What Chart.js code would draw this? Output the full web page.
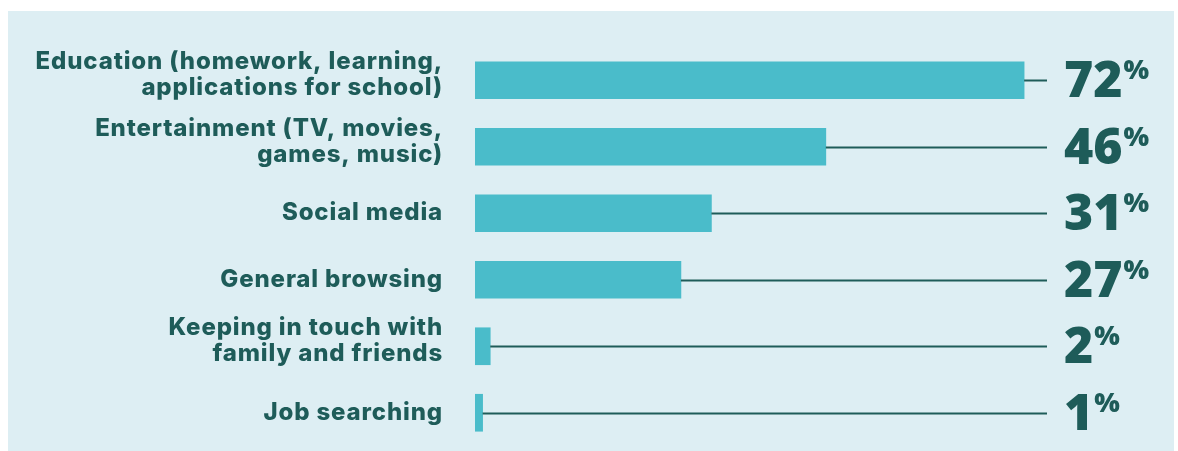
<!DOCTYPE html>
<html>
<head>
<meta charset="utf-8">
<script src="https://cdn.jsdelivr.net/npm/chart.js@4"></script>
<style>
    html, body { margin: 0; padding: 0; background: #ffffff; }
    #wrap { width: 1178px; height: 451px; }
</style>
</head>
<body>
<div id="wrap"><canvas id="chart" width="1178" height="451"></canvas></div>
<script>
const categories = [
    ["Education (homework, learning,", "applications for school)"],
    ["Entertainment (TV, movies,", "games, music)"],
    ["Social media"],
    ["General browsing"],
    ["Keeping in touch with", "family and friends"],
    ["Job searching"]
];
const values = [72, 46, 31, 27, 2, 1];

const DARK = "#1e5c59";
const BAR = "#4abcca";
const PANEL = "#ddeef3";

// light panel behind the chart
const panelPlugin = {
    id: "panel",
    beforeDraw(chart) {
        const ctx = chart.ctx;
        ctx.save();
        ctx.fillStyle = "#ffffff";
        ctx.fillRect(0, 0, chart.width, chart.height);
        ctx.fillStyle = PANEL;
        ctx.fillRect(8, 11, 1166, 440);
        ctx.restore();
    }
};

// category labels, right aligned left of the bars
const labelPlugin = {
    id: "catLabels",
    afterDraw(chart) {
        const ctx = chart.ctx;
        const yScale = chart.scales.y;
        const right = chart.chartArea.left - 32;
        const lineH = 26;
        ctx.save();
        ctx.fillStyle = DARK;
        ctx.font = "800 24px Inter";
        ctx.letterSpacing = "0.85px";
        ctx.textAlign = "right";
        ctx.textBaseline = "alphabetic";
        categories.forEach((lines, i) => {
            const yc = yScale.getPixelForValue(i);
            const n = lines.length;
            const mid = n > 1 ? yc + 2 : yc + 7;
            lines.forEach((t, k) => {
                ctx.fillText(t, right, mid + (k - (n - 1) / 2) * lineH);
            });
        });
        ctx.restore();
    }
};

// leader lines and big value labels
const valuePlugin = {
    id: "values",
    afterDatasetsDraw(chart) {
        const ctx = chart.ctx;
        const area = chart.chartArea;
        const meta = chart.getDatasetMeta(0);
        ctx.save();
        meta.data.forEach((bar, i) => {
            const y = Math.round(bar.y) + 0.5;
            ctx.strokeStyle = DARK;
            ctx.lineWidth = 2;
            ctx.beginPath();
            ctx.moveTo(bar.x, y);
            ctx.lineTo(area.right, y);
            ctx.stroke();

            const num = String(values[i]);
            ctx.fillStyle = DARK;
            ctx.textBaseline = "alphabetic";
            ctx.textAlign = "left";
            ctx.font = "800 50px 'Open Sans'";
            const x0 = area.right + 17;
            ctx.fillText(num, x0, y + 16);
            const w = ctx.measureText(num).width;
            ctx.font = "800 27px 'Open Sans'";
            ctx.fillText("%", x0 + w + 1, y - 2);
        });
        ctx.restore();
    }
};

new Chart(document.getElementById("chart"), {
    type: "bar",
    data: {
        labels: categories.map((c) => c.join(" ")),
        datasets: [{
            data: values,
            backgroundColor: BAR,
            borderWidth: 0,
            barThickness: 37
        }]
    },
    options: {
        indexAxis: "y",
        responsive: false,
        animation: false,
        layout: { padding: { top: 47, bottom: 5, right: 131, left: 475 } },
        plugins: {
            legend: { display: false },
            tooltip: { enabled: false }
        },
        scales: {
            x: {
                display: false,
                min: 0,
                max: 75
            },
            y: {
                display: false
            }
        }
    },
    plugins: [panelPlugin, labelPlugin, valuePlugin]
});
</script>
</body>
</html>
